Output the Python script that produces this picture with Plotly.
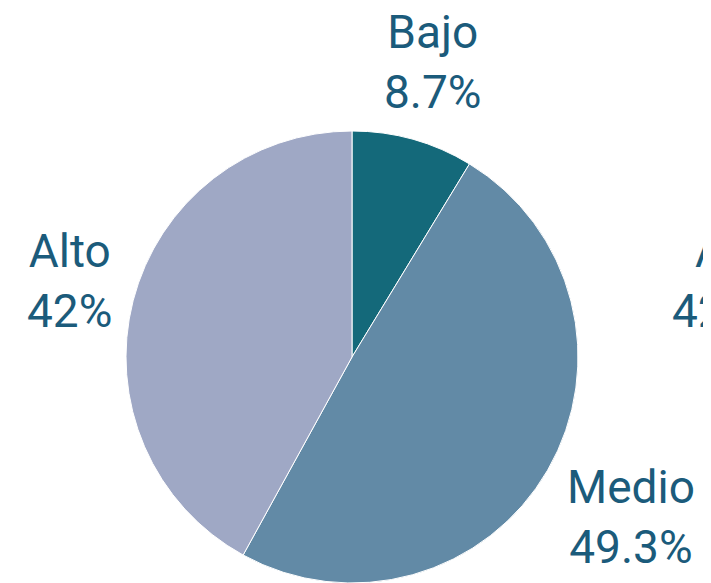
import plotly.graph_objects as go

# Niveles y porcentajes
niveles = ["Bajo", "Medio", "Alto"]
porcentajes = [8.7, 49.3, 42]
colores = ["#14697a", "#628aa6", "#9fa8c5"]

color_texto = "#1b5b7b"
fuente = dict(family="Roboto", size=46, color=color_texto)

W, H = 711, 583
OFF = 8  # margen del body en la página

fig = go.Figure(
    go.Pie(
        labels=niveles,
        values=porcentajes,
        sort=False,
        direction="clockwise",
        rotation=0,
        marker=dict(colors=colores, line=dict(color="white", width=1)),
        textinfo="none",
        hoverinfo="label+percent",
        showlegend=False,
        domain=dict(x=[(344 - 226) / W, (344 + 226) / W],
                    y=[(234 - 226) / H, (234 + 226) / H]),
    )
)

# posiciones de las etiquetas (px en la ventana)
pos_etiquetas = {"Bajo": (433, 62), "Medio": (631, 517), "Alto": (69, 281)}


def px_paper(x, y):
    return (x - OFF) / W, 1 - (y - OFF) / H


for nivel, pct in zip(niveles, porcentajes):
    x, y = px_paper(*pos_etiquetas[nivel])
    fig.add_annotation(text=f"{nivel}<br>{pct:g}%", x=x, y=y, xref="paper", yref="paper",
                       xanchor="center", yanchor="middle", showarrow=False, font=fuente)

# etiqueta cortada en el borde derecho (viene de la imagen original)
x, y = px_paper(693, 251)
fig.add_annotation(text="Alto", x=x, y=y, xref="paper", yref="paper",
                   xanchor="left", yanchor="middle", showarrow=False, font=fuente)
x, y = px_paper(670, 311)
fig.add_annotation(text="42%", x=x, y=y, xref="paper", yref="paper",
                   xanchor="left", yanchor="middle", showarrow=False, font=fuente)

fig.update_layout(
    width=W,
    height=H,
    margin=dict(l=0, r=0, t=0, b=0),
    paper_bgcolor="white",
    plot_bgcolor="white",
)

fig.write_html("out.html")
